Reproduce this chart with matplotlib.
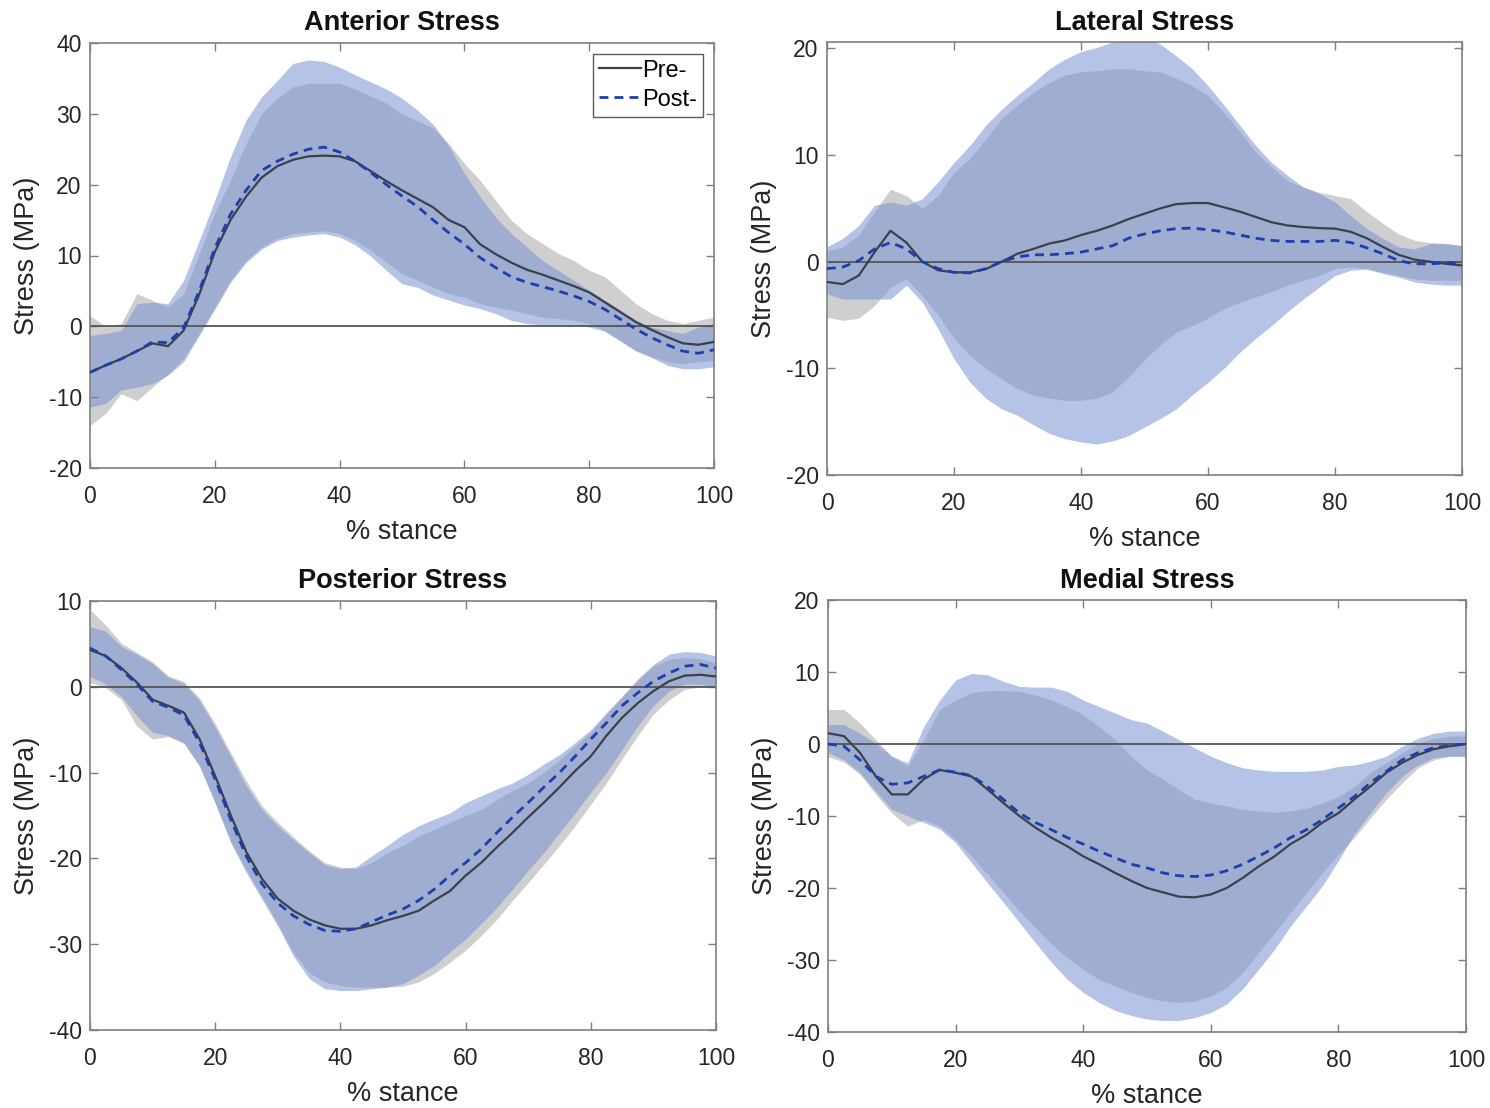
import numpy as np
import matplotlib
matplotlib.use("Agg")
import matplotlib.pyplot as plt

plt.rcParams['font.family'] = ['Liberation Sans', 'DejaVu Sans']
plt.rcParams['axes.unicode_minus'] = False

# % stance sample points (every 2.5 %)
stance = [i * 2.5 for i in range(41)]

# ---------------- Anterior ----------------
ant_pre_mean = [-6.5, -5.5, -4.6, -3.5, -2.4, -2.8, -0.6, 4.5, 10.5, 15.0, 18.3, 21.0, 22.6, 23.5, 24.0, 24.1, 24.0,
                23.3, 21.9, 20.5, 19.2, 18.0, 16.8, 15.0, 14.0, 11.6, 10.2, 9.0, 8.0, 7.3, 6.5, 5.7, 4.8, 3.4, 2.0,
                0.6, -0.5, -1.5, -2.4, -2.6, -2.2]
ant_post_mean = [-6.5, -5.5, -4.6, -3.5, -2.2, -2.3, -0.2, 5.0, 11.0, 15.8, 19.2, 22.0, 23.3, 24.3, 25.0, 25.3, 24.6,
                 23.3, 21.7, 20.0, 18.4, 16.9, 15.0, 13.2, 11.6, 9.7, 8.3, 7.0, 6.2, 5.6, 5.0, 4.3, 3.5, 2.4, 1.0,
                 -0.4, -1.6, -2.6, -3.5, -3.8, -3.3]
ant_pre_hi = [1.5, 0.0, 0.4, 4.6, 3.7, 2.7, 4.6, 10.3, 16.0, 20.6, 25.8, 30.0, 32.2, 33.8, 34.3, 34.3, 34.3, 33.5,
              32.5, 31.5, 30.0, 29.0, 28.0, 25.8, 23.0, 20.6, 17.8, 15.0, 13.1, 11.7, 10.3, 9.3, 7.9, 7.0, 5.1, 3.2,
              1.8, 0.85, 0.4, 0.85, 1.3]
ant_post_hi = [-1.3, -1.0, -0.6, 3.2, 3.4, 3.2, 6.5, 12.1, 17.8, 23.9, 29.1, 32.4, 34.7, 37.1, 37.6, 37.4, 36.6,
               35.5, 34.5, 33.5, 32.2, 30.5, 28.5, 25.5, 21.6, 18.3, 15.4, 13.1, 11.2, 9.3, 7.9, 6.5, 5.1, 3.7, 2.3,
               0.85, -0.1, -0.6, -1.0, -0.1, 0.4]
ant_pre_lo = [-14.0, -12.3, -9.5, -10.5, -8.6, -6.7, -4.5, -1.0, 2.7, 6.5, 9.3, 11.2, 12.4, 13.1, 13.3, 13.5, 13.1,
              12.1, 10.7, 9.1, 7.4, 6.5, 5.5, 4.6, 4.1, 3.2, 2.7, 2.3, 1.8, 1.3, 1.1, 0.85, 0.4, -0.6, -2.0, -3.4,
              -4.3, -5.0, -5.3, -5.0, -4.8]
ant_post_lo = [-11.4, -10.9, -9.0, -8.6, -8.1, -6.9, -5.0, -1.3, 2.4, 6.2, 9.0, 10.9, 12.1, 12.6, 12.9, 13.1, 12.6,
               11.5, 9.9, 7.9, 6.0, 5.5, 4.4, 3.7, 3.0, 2.5, 1.8, 0.85, 0.4, 0.2, 0.2, 0.2, -0.1, -0.7, -2.1, -3.5,
               -4.4, -5.5, -6.0, -6.0, -5.7]

# ---------------- Lateral ----------------
lat_pre_mean = [-1.9, -2.1, -1.3, 0.9, 2.9, 1.8, 0.0, -0.8, -1.0, -1.0, -0.7, 0.0, 0.75, 1.2, 1.7, 2.0, 2.5, 2.9,
                3.4, 4.0, 4.5, 5.0, 5.4, 5.5, 5.5, 5.1, 4.7, 4.2, 3.7, 3.4, 3.25, 3.15, 3.1, 2.8, 2.2, 1.4, 0.65,
                0.2, 0.0, -0.2, -0.35]
lat_post_mean = [-0.65, -0.5, 0.1, 1.2, 1.8, 1.2, 0.0, -0.65, -1.0, -1.05, -0.65, 0.0, 0.45, 0.65, 0.65, 0.75, 0.9,
                 1.2, 1.5, 2.2, 2.6, 2.9, 3.1, 3.15, 3.0, 2.8, 2.5, 2.2, 2.0, 1.9, 1.9, 1.9, 2.0, 1.8, 1.3, 0.75,
                 0.1, -0.2, -0.2, -0.1, -0.1]
lat_pre_hi = [1.0, 1.4, 2.5, 4.7, 6.8, 6.2, 5.0, 6.2, 8.4, 9.7, 11.5, 13.4, 14.7, 15.9, 16.8, 17.5, 17.8, 17.9, 18.1,
              18.1, 17.9, 17.8, 17.2, 16.5, 15.6, 14.0, 12.2, 10.3, 8.9, 7.6, 7.0, 6.5, 6.2, 5.9, 4.7, 3.6, 2.6,
              2.0, 1.8, 1.7, 1.5]
lat_post_hi = [1.4, 2.2, 3.4, 5.3, 5.6, 5.3, 5.9, 7.5, 9.3, 10.9, 12.8, 14.3, 15.6, 16.8, 18.1, 19.0, 19.7, 20.1,
               20.6, 20.9, 21.0, 20.4, 19.3, 18.1, 16.5, 14.7, 12.8, 10.9, 9.3, 8.1, 7.0, 6.4, 5.6, 4.3, 3.1, 2.2,
               1.4, 1.2, 1.7, 1.7, 1.5]
lat_pre_lo = [-5.2, -5.5, -5.3, -4.1, -2.4, -1.6, -3.2, -5.0, -7.2, -8.8, -10.0, -11.0, -11.9, -12.5, -12.8, -13.0,
              -13.0, -12.8, -12.2, -10.8, -9.2, -7.8, -6.6, -6.0, -5.3, -4.4, -3.8, -3.3, -2.8, -2.2, -1.75, -1.3,
              -0.65, -0.5, -0.65, -1.0, -1.3, -1.6, -1.75, -1.75, -1.75]
lat_post_lo = [-3.0, -3.5, -3.5, -3.5, -3.5, -2.2, -3.8, -6.3, -9.1, -11.3, -12.8, -13.8, -14.4, -15.3, -16.1,
               -16.6, -16.9, -17.1, -16.8, -16.3, -15.5, -14.7, -13.8, -12.5, -11.3, -10.0, -8.5, -7.2, -6.0, -4.7,
               -3.5, -2.4, -1.3, -0.8, -0.7, -1.1, -1.45, -1.9, -2.1, -2.2, -2.2]

# ---------------- Posterior ----------------
pos_pre_mean = [4.3, 3.6, 2.2, 0.5, -1.5, -2.2, -3.0, -6.1, -10.4, -15.0, -19.3, -22.4, -24.7, -26.1, -27.1, -27.8,
                -28.2, -28.2, -27.8, -27.2, -26.7, -26.1, -24.9, -23.8, -22.0, -20.5, -18.7, -17.0, -15.2, -13.5,
                -11.7, -9.8, -8.1, -5.7, -3.6, -1.9, -0.5, 0.65, 1.3, 1.4, 1.2]
pos_post_mean = [4.5, 3.6, 2.0, 0.3, -1.7, -2.4, -3.3, -6.5, -10.8, -15.5, -19.8, -23.0, -25.2, -26.7, -27.7, -28.4,
                 -28.5, -28.2, -27.4, -26.6, -25.9, -24.9, -23.6, -22.0, -20.5, -18.9, -17.0, -15.2, -13.5, -11.7,
                 -10.0, -8.1, -6.1, -4.2, -2.2, -0.7, 0.65, 1.6, 2.4, 2.6, 2.2]
pos_pre_hi = [9.0, 7.2, 5.1, 4.0, 2.9, 1.3, 0.6, -1.3, -4.3, -7.7, -11.0, -13.9, -15.8, -17.5, -19.1, -20.5, -21.0,
              -21.2, -20.5, -19.3, -18.5, -17.4, -16.6, -15.8, -15.0, -14.3, -13.1, -12.1, -11.2, -10.0, -8.5, -6.9,
              -5.3, -3.2, -1.2, 0.8, 2.4, 3.2, 3.4, 3.3, 2.8]
pos_post_hi = [7.0, 6.5, 4.7, 3.8, 2.7, 1.1, 0.4, -1.6, -4.7, -8.1, -11.6, -14.3, -16.2, -17.8, -19.3, -20.7, -21.2,
               -21.0, -19.7, -18.5, -17.2, -16.2, -15.4, -14.7, -13.5, -12.7, -11.9, -11.2, -10.2, -9.0, -7.9, -6.5,
               -5.0, -3.0, -1.1, 0.9, 2.6, 3.8, 4.1, 4.0, 3.6]
pos_pre_lo = [0.5, -0.1, -1.5, -4.6, -6.1, -5.8, -6.6, -9.3, -13.5, -18.0, -21.4, -24.5, -27.6, -31.0, -33.3, -34.4,
              -34.8, -35.0, -35.0, -35.0, -34.9, -34.4, -33.4, -32.1, -30.7, -29.0, -27.1, -24.9, -22.8, -20.7, -18.5,
              -16.2, -13.7, -11.2, -8.4, -5.7, -3.2, -1.5, -0.3, 0.0, 0.0]
pos_post_lo = [1.2, 0.3, -1.1, -3.4, -5.3, -5.7, -6.5, -9.2, -13.6, -18.2, -21.7, -24.8, -27.9, -31.4, -34.0, -35.2,
               -35.4, -35.4, -35.2, -35.0, -34.6, -33.6, -32.5, -30.9, -29.4, -27.6, -25.7, -23.6, -21.4, -19.3, -17.0,
               -14.7, -12.3, -10.0, -7.3, -4.6, -2.2, -0.5, 0.3, 0.3, 0.0]

# ---------------- Medial ----------------
med_pre_mean = [1.5, 1.1, -1.2, -4.5, -7.0, -7.0, -4.9, -3.6, -4.0, -4.5, -6.3, -8.2, -10.0, -11.6, -13.0, -14.2,
                -15.6, -16.7, -17.9, -19.0, -20.0, -20.6, -21.2, -21.3, -20.9, -20.0, -18.6, -17.0, -15.6, -13.9,
                -12.6, -10.9, -9.6, -7.7, -5.9, -4.0, -2.6, -1.5, -0.7, -0.3, 0.0]
med_post_mean = [0.0, -0.3, -2.2, -4.5, -5.6, -5.4, -4.5, -3.6, -3.9, -4.4, -5.9, -7.7, -9.6, -10.9, -11.9, -13.0,
                 -13.9, -14.9, -15.8, -16.7, -17.2, -17.9, -18.3, -18.4, -18.2, -17.6, -16.7, -15.6, -14.4, -13.0,
                 -11.9, -10.5, -8.9, -7.3, -5.4, -3.8, -2.2, -1.2, -0.5, -0.2, 0.0]
med_pre_hi = [4.8, 4.8, 2.9, 0.6, -1.7, -3.1, 0.6, 4.8, 6.1, 7.1, 7.4, 7.4, 7.3, 6.8, 6.1, 5.2, 4.1, 2.4, 0.6, -1.7,
              -3.6, -4.9, -6.3, -7.7, -8.2, -8.6, -9.1, -9.3, -9.5, -9.3, -8.9, -8.2, -7.3, -5.9, -4.0, -2.6, -1.2,
              0.1, 0.8, 1.1, 1.1]
med_post_hi = [2.7, 2.7, 1.5, 0.1, -1.7, -2.6, 2.4, 6.1, 8.9, 9.8, 9.6, 8.7, 8.0, 7.9, 7.9, 7.3, 6.1, 5.2, 4.3, 3.4,
               2.9, 1.8, 0.6, -0.55, -1.7, -2.6, -3.3, -3.6, -3.8, -3.8, -3.8, -3.6, -3.1, -2.9, -2.4, -1.7, -0.3,
               0.8, 1.5, 1.8, 1.8]
med_pre_lo = [-1.8, -2.5, -4.2, -7.0, -9.6, -11.4, -10.5, -11.4, -13.3, -15.6, -18.1, -20.6, -23.2, -25.5, -27.8,
              -29.7, -31.3, -32.7, -33.6, -34.5, -35.2, -35.7, -35.9, -35.7, -35.0, -33.8, -31.7, -29.0, -26.2,
              -23.4, -20.6, -17.9, -15.3, -13.0, -10.3, -7.7, -5.4, -3.3, -2.2, -1.7, -1.7]
med_post_lo = [-1.2, -2.2, -4.0, -6.6, -9.1, -10.0, -10.9, -11.8, -13.7, -16.5, -19.3, -22.0, -24.8, -27.6, -30.3,
               -32.7, -34.5, -35.9, -37.0, -37.7, -38.2, -38.4, -38.4, -38.0, -37.3, -36.1, -34.0, -31.3, -28.5,
               -25.3, -22.5, -19.7, -16.2, -12.5, -9.6, -6.8, -4.5, -2.9, -1.9, -1.7, -1.7]

x_ticks = [0, 20, 40, 60, 80, 100]

panels = [
    dict(title="Anterior Stress", pre=ant_pre_mean, post=ant_post_mean, pre_hi=ant_pre_hi, pre_lo=ant_pre_lo,
         post_hi=ant_post_hi, post_lo=ant_post_lo, ylim=(-20, 40), yticks=[-20, -10, 0, 10, 20, 30, 40],
         pos=[90, 43, 714, 468], legend=True),
    dict(title="Lateral Stress", pre=lat_pre_mean, post=lat_post_mean, pre_hi=lat_pre_hi, pre_lo=lat_pre_lo,
         post_hi=lat_post_hi, post_lo=lat_post_lo, ylim=(-20, 20.6), yticks=[-20, -10, 0, 10, 20],
         pos=[827, 42, 1462, 475], legend=False),
    dict(title="Posterior Stress", pre=pos_pre_mean, post=pos_post_mean, pre_hi=pos_pre_hi, pre_lo=pos_pre_lo,
         post_hi=pos_post_hi, post_lo=pos_post_lo, ylim=(-40, 10), yticks=[-40, -30, -20, -10, 0, 10],
         pos=[90, 601, 716, 1030], legend=False),
    dict(title="Medial Stress", pre=med_pre_mean, post=med_post_mean, pre_hi=med_pre_hi, pre_lo=med_pre_lo,
         post_hi=med_post_hi, post_lo=med_post_lo, ylim=(-40, 20), yticks=[-40, -30, -20, -10, 0, 10, 20],
         pos=[828, 600, 1466, 1032], legend=False),
]

W, H = 1490, 1108
fig = plt.figure(figsize=(W / 100, H / 100), dpi=100)

gray_fill = (0.81, 0.81, 0.81)
blue_fill = (120 / 255, 148 / 255, 210 / 255)
pre_color = '#3b404c'
post_color = '#1c3fae'
spine_color = '#7f7f7f'

for p in panels:
    l, t, r, b = p['pos']
    ax = fig.add_axes([l / W, 1 - b / H, (r - l) / W, (b - t) / H])
    ax.fill_between(stance, p['pre_lo'], p['pre_hi'], color=gray_fill, lw=0, zorder=1)
    ax.fill_between(stance, p['post_lo'], p['post_hi'], color=blue_fill, alpha=0.55, lw=0, zorder=1.1)
    ax.axhline(0, color='#555555', lw=1.3, zorder=2)
    ax.plot(stance, p['pre'], color=pre_color, lw=1.6, zorder=3, label='Pre-')
    ax.plot(stance, p['post'], color=post_color, lw=2.0, ls=(0, (3.2, 2.2)), zorder=4, label='Post-')
    ax.set_xlim(0, 100)
    ax.set_ylim(*p['ylim'])
    ax.set_xticks(x_ticks)
    ax.set_yticks(p['yticks'])
    ax.tick_params(direction='in', length=6, width=1, colors=spine_color, labelcolor='#262626',
                   labelsize=16.5, top=True, right=True)
    ax.tick_params(axis='x', pad=12)
    ax.tick_params(axis='y', pad=6)
    for s in ax.spines.values():
        s.set_color(spine_color)
        s.set_linewidth(1.2)
    ax.set_xlabel('% stance', fontsize=19.5, color='#262626', labelpad=8)
    ax.set_ylabel('Stress (MPa)', fontsize=19.5, color='#262626', labelpad=6)
    ax.set_title(p['title'], fontsize=19.5, fontweight='bold', color='#111111', pad=9)
    if p['legend']:
        leg = ax.legend(loc='upper right', fontsize=17, frameon=True, fancybox=False, edgecolor='#333333',
                        handlelength=1.8, handletextpad=0.05, borderpad=0.25, labelspacing=0.3,
                        borderaxespad=0.45)
        leg.get_frame().set_linewidth(1.0)

fig.savefig('out.png', dpi=100)
